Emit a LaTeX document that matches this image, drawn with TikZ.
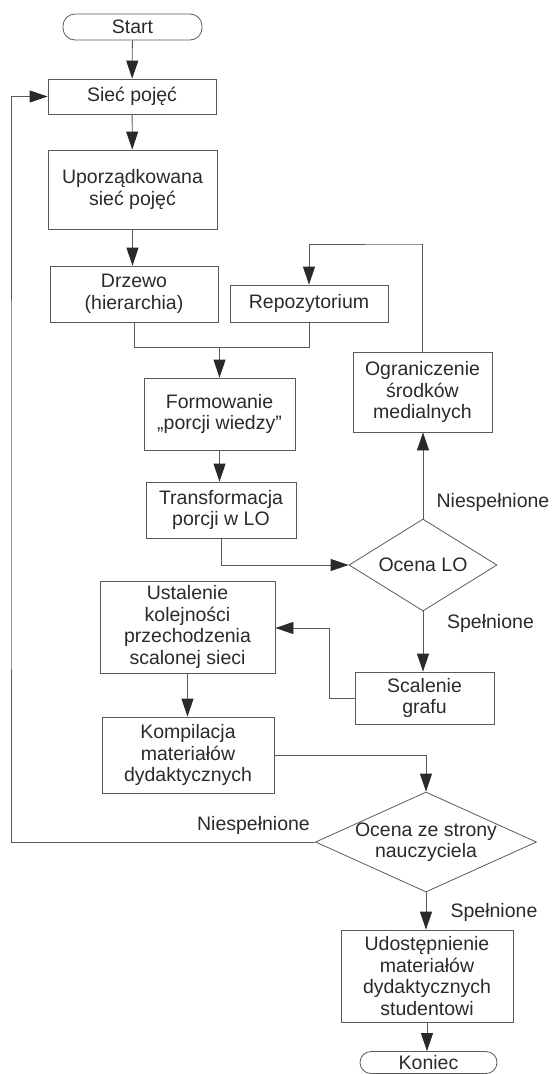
\documentclass[tikz,border=0pt]{standalone}
\usepackage{fontspec}
\setmainfont{Liberation Sans}
\usetikzlibrary{arrows.meta,shapes.geometric}
\definecolor{ink}{HTML}{2A2A2A}
\definecolor{rule}{HTML}{5A5A5A}
\begin{document}
\begin{tikzpicture}[x=1pt,y=-1pt,
  font=\fontsize{19.5}{21.5}\selectfont,
  every node/.style={text=ink},
  box/.style={draw=rule,line width=0.8pt,rectangle,align=center,inner sep=0pt},
  term/.style={box,rounded corners=12pt},
  decision/.style={draw=rule,line width=0.8pt,diamond,align=center,inner sep=0pt},
  flow/.style={draw=rule,line width=0.8pt},
  arr/.style={flow,-{Triangle[length=18pt,width=12pt,fill=ink,color=ink]}},
  lbl/.style={inner sep=0pt}]
\useasboundingbox (0,0) rectangle (553,1074);

% process boxes
\node[term,minimum width=139pt,minimum height=26pt] (start) at (132.5,27) {Start};
\node[box,minimum width=168pt,minimum height=35pt] (siec) at (132,96.5) {Sieć pojęć};
\node[box,minimum width=169pt,minimum height=79pt] (upo) at (132.5,189.5) {Uporządkowana\\sieć pojęć};
\node[box,minimum width=168pt,minimum height=56pt] (drzewo) at (134,294) {Drzewo\\(hierarchia)};
\node[box,minimum width=158pt,minimum height=37pt] (repo) at (309,303.5) {Repozytorium};
\node[box,minimum width=151pt,minimum height=72pt] (form) at (219.5,414) {Formowanie\\„porcji wiedzy”};
\node[box,minimum width=139pt,minimum height=80pt] (ogr) at (422.5,392) {Ograniczenie\\środków\\medialnych};
\node[box,minimum width=150pt,minimum height=56pt] (trans) at (221,510) {Transformacja\\porcji w LO};
\node[decision,minimum width=148pt,minimum height=92pt,aspect=1.6] (ocenaLO) at (423,565) {Ocena LO};
\node[box,minimum width=175pt,minimum height=92pt] (ustal) at (187.5,627) {Ustalenie\\kolejności\\przechodzenia\\scalonej sieci};
\node[box,minimum width=139pt,minimum height=52pt] (scal) at (424.5,698) {Scalenie\\grafu};
\node[box,minimum width=172pt,minimum height=76pt] (komp) at (188,755) {Kompilacja\\materiałów\\dydaktycznych};
\node[decision,minimum width=221pt,minimum height=100pt,aspect=2.21,inner sep=-3pt] (ocenaN) at (426,842) {Ocena ze strony\\nauczyciela};
\node[box,minimum width=172pt,minimum height=92pt] (udost) at (427,976) {Udostępnienie\\materiałów\\dydaktycznych\\studentowi};
\node[term,minimum width=137pt,minimum height=22pt,rounded corners=11pt] (koniec) at (428.5,1062.5) {Koniec};

% branch labels
\node[lbl] (nie1) at (493,502) {Niespełnione};
\node[lbl] (tak1) at (490.5,623) {Spełnione};
\node[lbl] (nie2) at (253.5,825) {Niespełnione};
\node[lbl] (tak2) at (494,912) {Spełnione};

% bend points
\coordinate (merge) at (219.5,347);
\coordinate (rtop) at (421,244);
\coordinate (bend) at (329,628);
\coordinate (back) at (11,500);

% connectors
\draw[arr] (start) -- (siec);
\draw[arr] (siec) -- (upo);
\draw[arr] (upo.south) -- (upo.south |- drzewo.north);
\draw[flow] (drzewo.south) |- (merge);
\draw[flow] (repo.south) |- (merge);
\draw[arr] (merge) -- (form.north);
\draw[arr] (form.south) -- (form.south |- trans.north);
\draw[arr] (trans.south) |- (ocenaLO.west);
\draw[arr] (ocenaLO.north) -- (ocenaLO.north |- ogr.south);
\draw[arr] (ogr.north) |- (rtop) -| (repo.north);
\draw[arr] (ocenaLO.south) -- (ocenaLO.south |- scal.north);
\draw[arr] (scal.west) -| (bend) -- (ustal.east |- bend);
\draw[arr] (ustal.south) -- (ustal.south |- komp.north);
\draw[arr] (komp.east) -| (ocenaN.north);
\draw[arr] (ocenaN.south) -- (ocenaN.south |- udost.north);
\draw[arr] (udost.south) -- (udost.south |- koniec.north);
\draw[arr] (ocenaN.west) -| (back) |- (siec.west);
\end{tikzpicture}
\end{document}
